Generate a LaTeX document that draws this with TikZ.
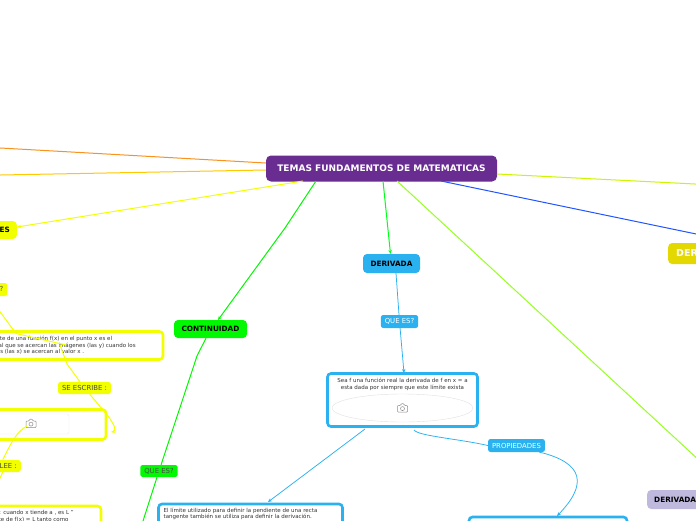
\documentclass[tikz,border=0pt]{standalone}
\usepackage{fontspec}
\setmainfont{DejaVu Sans}
\usetikzlibrary{arrows.meta,shapes.geometric}
\definecolor{rootc}{HTML}{692C91}
\definecolor{bluec}{HTML}{29B1F0}
\definecolor{yel}{HTML}{F2FF00}
\definecolor{grn}{HTML}{00F800}
\definecolor{lav}{HTML}{BFB9DD}
\definecolor{gold}{HTML}{E3D800}
\definecolor{limeline}{HTML}{99FF22}
\definecolor{yglime}{HTML}{CCF500}
\definecolor{orangeline}{HTML}{F7931E}
\definecolor{goldline}{HTML}{FFC800}
\definecolor{blueline}{HTML}{2255FF}
\tikzset{
 x=1pt,y=-1pt,
 pill/.style={rounded corners=2.5pt,inner ysep=0pt,inner xsep=4pt,font=\fontsize{6.9}{8}\selectfont},
 mainbox/.style={rounded corners=4pt,inner ysep=0pt,inner xsep=7pt,font=\bfseries\fontsize{7.3}{9}\selectfont},
 txtbox/.style={draw,line width=2.6pt,rounded corners=3.5pt,fill=white,inner sep=0pt},
 body/.style={font=\fontsize{5.5}{6.5}\selectfont,text=black!80,align=left,anchor=north west,inner sep=0pt},
 link/.style={line width=1pt},
 thinlink/.style={line width=.75pt},
 tip/.style={-{Stealth[length=4pt,width=3.5pt]}},
}
\newcommand{\camicon}[2]{%
 \draw[black!45,line width=.5pt,rounded corners=.8pt] (#1-5,#2-2.5) -- (#1-2,#2-2.5) -- (#1-1,#2-4.5) -- (#1+1,#2-4.5) -- (#1+2,#2-2.5) -- (#1+5,#2-2.5) -- (#1+5,#2+4) -- (#1-5,#2+4) -- cycle;
 \draw[black!45,line width=.5pt] (#1,#2+.6) circle (2);}
\begin{document}
\begin{tikzpicture}
\useasboundingbox[fill=white] (0,0) rectangle (696,520);
% coordinates of free ends
\coordinate (oL) at (-5,147.7);
\coordinate (gL) at (-5,175.1);
\coordinate (bR) at (701,235);
\coordinate (yR) at (701,184.3);
\coordinate (lR) at (701,462);
% nodes
\node[fill=rootc,rounded corners=5pt,minimum width=231pt,minimum height=26pt,inner sep=0pt,text=white,font=\bfseries\fontsize{9}{10}\selectfont] (root) at (381.5,168.5) {TEMAS FUNDAMENTOS DE MATEMATICAS};
\node[mainbox,fill=yel,anchor=east,minimum height=18pt] (lim) at (17,230) {LIMITES};
\node[mainbox,fill=grn,minimum width=73pt,minimum height=18pt] (cont) at (210.5,329) {CONTINUIDAD};
\node[mainbox,fill=bluec,minimum width=57pt,minimum height=19pt] (der) at (391.5,263.5) {DERIVADA};
\node[mainbox,fill=lav,anchor=west,minimum height=19pt] (der2) at (647,499.5) {DERIVADAS};
\node[mainbox,fill=gold,text=white,anchor=west,inner xsep=8pt,minimum height=21pt,font=\bfseries\fontsize{9.5}{11}\selectfont] (der3) at (668,253.5) {DERIVADAS};
\node[pill,fill=yel,text=black!70,anchor=east,minimum height=13pt] (q1) at (7.5,289.5) {QUE ES?};
\node[pill,fill=yel,text=black!70,minimum width=53pt,minimum height=12pt] (esc) at (84.5,388) {SE ESCRIBE :};
\node[pill,fill=yel,text=black!70,anchor=east,minimum height=12pt] (lee) at (21,466) {SE LEE :};
\node[pill,fill=grn,text=black!70,minimum width=36pt,minimum height=12pt] (q2) at (159,471) {QUE ES?};
\node[pill,fill=bluec,text=white,minimum width=37pt,minimum height=13pt] (q3) at (399.5,321.5) {QUE ES?};
\node[pill,fill=bluec,text=white,minimum width=55pt,minimum height=13pt] (prop) at (516.5,445.5) {PROPIEDADES};
% connectors
\draw[link,draw=orangeline] (oL) -- (root.west|-0,163);
\draw[link,draw=goldline] (gL) -- (root.west|-0,170);
\coordinate (r1) at (303,181);
\coordinate (r2) at (316,181);
\coordinate (r3) at (383,181);
\coordinate (r4) at (397,181);
\coordinate (r5) at (441,181);
\coordinate (r6) at (497,174);
\draw[link,tip,draw=yel] (r1) -- (lim.east|-0,227);
\draw[link,tip,draw=grn] (r2) -- (285,228) -- (218,320);
\draw[link,tip,draw=green!90!cyan] (r3) -- (390.5,254);
\draw[link,draw=limeline] (r4) -- (lR);
\draw[link,draw=blueline] (r5) -- (bR);
\draw[link,draw=yglime] (r6) -- (yR);
% left branch
\node[txtbox,draw=yel,minimum width=200pt,minimum height=28pt] (b1) at (63,345.5) {};
\node[body] (b1t) at (-17,336) {El límite de una función f(x) en el punto x es el\\valor al que se  acercan las imágenes (las y) cuando los\\valores (las x) se acercan al valor x .};
\node[txtbox,draw=yel,minimum width=200pt,minimum height=30pt] (b2) at (6,424.5) {};
\node[draw=black!8,rounded corners=2pt,minimum width=120pt,minimum height=20pt,inner sep=0pt] (b2i) at (9,424) {};
\camicon{31}{423.5}
\node[txtbox,draw=yel,minimum width=200pt,minimum height=40pt] (b3) at (1,526) {};
\node[body] (b3t) at (-18,510.5) {Se lee: cuando x tiende a , es L "\\el límite de  f(x) = L tanto como};
\coordinate (j1) at (16,333.5);
\coordinate (j2) at (66,345);
\coordinate (j3) at (60,345);
\draw[link,draw=yel] (q1.south) -- (j1) -- (j2);
\draw[link,draw=yel] (j3) -- (67,364) -- (esc);
\draw[link,tip,draw=yel] (esc) -- (108,416) .. controls (114,424) and (117,431) .. (111,432);
\draw[link,draw=yel] (lee.north) .. controls (10,445) and (16,432) .. (27,426);
\draw[link,draw=yel] (lee.south) -- (-1,480);
% continuidad branch
\draw[link,draw=grn] ([xshift=-4.5pt]cont.south) -- (197,356) -- (q2);
\draw[link,draw=grn] (q2) -- (143,521);
% derivada branch
\draw[thinlink,draw=bluec] ([xshift=4.5pt]der.south) -- (q3);
\node[txtbox,draw=bluec,minimum width=150pt,minimum height=53pt] (b4) at (402.5,400) {};
\node[font=\fontsize{5.5}{6.5}\selectfont,text=black!80,align=center,inner sep=0pt] (b4t) at (402.5,384.5) {Sea f una función real la derivada de f en x = a\\esta dada por  siempre que este límite exista};
\node[draw=black!12,ellipse,minimum width=141pt,minimum height=28pt,inner sep=0pt] (b4i) at (402.5,408) {};
\camicon{402.5}{408}
\draw[thinlink,tip,draw=bluec] (q3) -- (404,373);
\node[txtbox,draw=bluec,minimum width=184pt,minimum height=40pt] (b5) at (250.5,524) {};
\node[body] (b5t) at (163.5,507.5) {El límite utilizado para definir la pendiente de una recta\\tangente también se utiliza para definir la derivación.};
\draw[thinlink,tip,draw=bluec] (365,429) -- (268,502);
\draw[thinlink,draw=bluec] (414,430) .. controls (418,436) and (460,439) .. (prop.west);
\node[txtbox,draw=bluec,minimum width=158pt,minimum height=40pt] (b6) at (548,537) {};
\draw[thinlink,tip,draw=bluec] (539,452) .. controls (585,463) and (587,485) .. (557,516);
\end{tikzpicture}
\end{document}
